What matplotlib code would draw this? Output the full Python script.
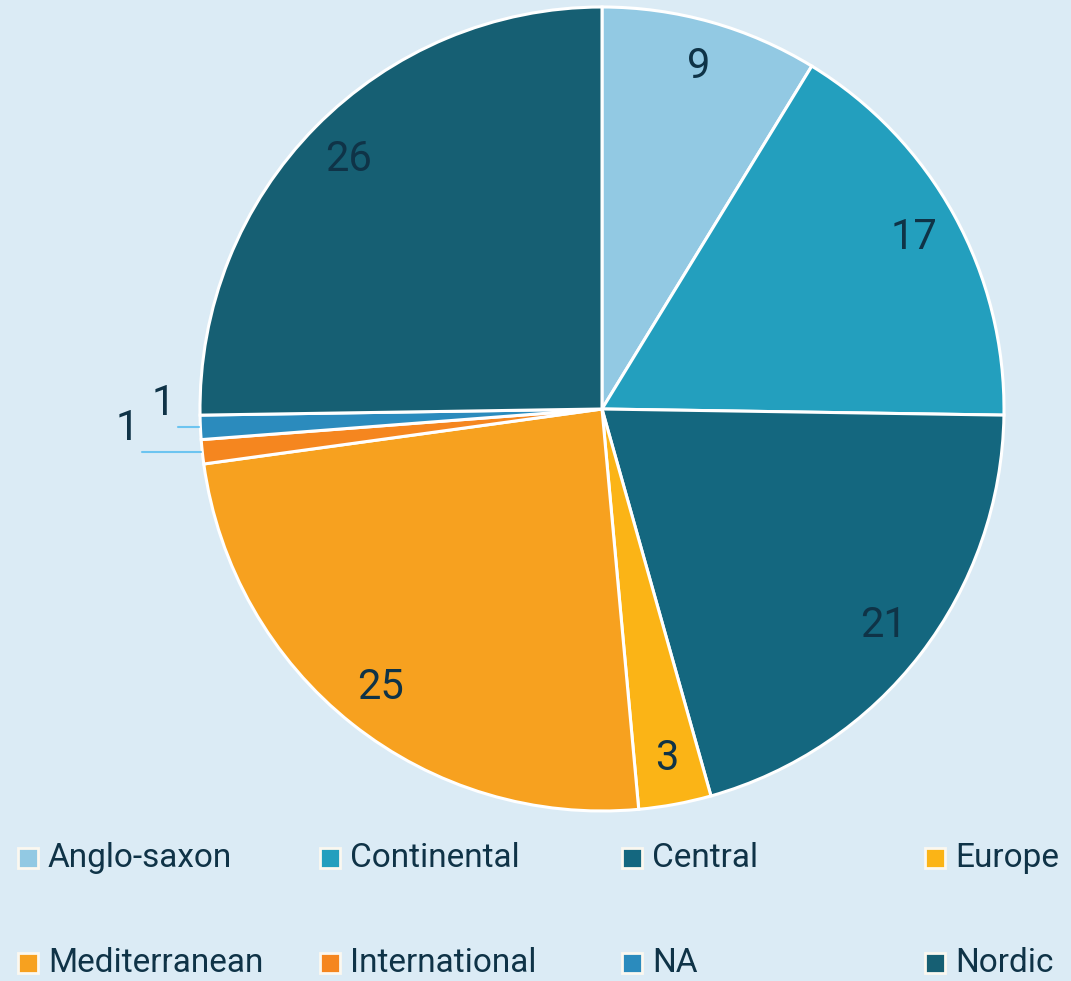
import matplotlib
matplotlib.use('Agg')
import matplotlib.pyplot as plt
import matplotlib.patches as patches
import numpy as np

# 数据
categories = ['Anglo-saxon', 'Continental', 'Central', 'Europe',
              'Mediterranean', 'International', 'NA', 'Nordic']
values = [9, 17, 21, 3, 25, 1, 1, 26]
colors = ['#92c9e3', '#239fbe', '#14677f', '#fbb416',
          '#f7a11f', '#f5861f', '#2b8bbd', '#165f73']

BG = '#dbebf5'
TXT = '#0f3347'
LEADER = '#6cc4f0'

plt.rcParams['font.family'] = ['Roboto', 'DejaVu Sans']

W, H = 1071, 981
fig = plt.figure(figsize=(W / 100, H / 100), dpi=100, facecolor=BG)
ax = fig.add_axes([0, 0, 1, 1])
ax.set_facecolor(BG)

cx, cy, R = 602, H - 409, 402

wedges, _ = ax.pie(values, colors=colors, startangle=90, counterclock=False,
                   center=(cx, cy), radius=R,
                   wedgeprops=dict(edgecolor='white', linewidth=2.2))

# 数值标签
total = sum(values)
cum = 0
for i, v in enumerate(values):
    mid = 90 - (cum + v / 2) / total * 360
    cum += v
    a = np.deg2rad(mid)
    if v >= 3:
        r = 0.885 * R
        ax.text(cx + r * np.cos(a), cy + r * np.sin(a), str(v),
                ha='center', va='center', fontsize=30, color=TXT)
    else:
        # 小扇区：引线 + 外部标签
        ex, ey = cx + R * np.cos(a), cy + R * np.sin(a)
        length = 22 if categories[i] == 'NA' else 60
        ax.plot([ex - 1, ex - length], [ey, ey], color=LEADER, lw=1.5,
                solid_capstyle='round')
        ax.text(ex - length - 3, ey + 3, str(v), ha='right', va='bottom',
                fontsize=30, color=TXT)

ax.set_xlim(0, W)
ax.set_ylim(0, H)
ax.set_aspect('equal')
ax.axis('off')

# 图例（手工绘制，4列2行）
col_x = [18, 320, 622, 925]
row_y = [H - 858, H - 963]
for i, (name, c) in enumerate(zip(categories, colors)):
    x = col_x[i % 4]
    y = row_y[i // 4]
    sq = patches.Rectangle((x, y - 10), 20, 20, facecolor=c,
                           edgecolor='#fbf8f0', linewidth=2)
    ax.add_patch(sq)
    ax.text(x + 30, y, name, ha='left', va='center', fontsize=24, color=TXT)

fig.savefig('out.png', dpi=100, facecolor=BG)
